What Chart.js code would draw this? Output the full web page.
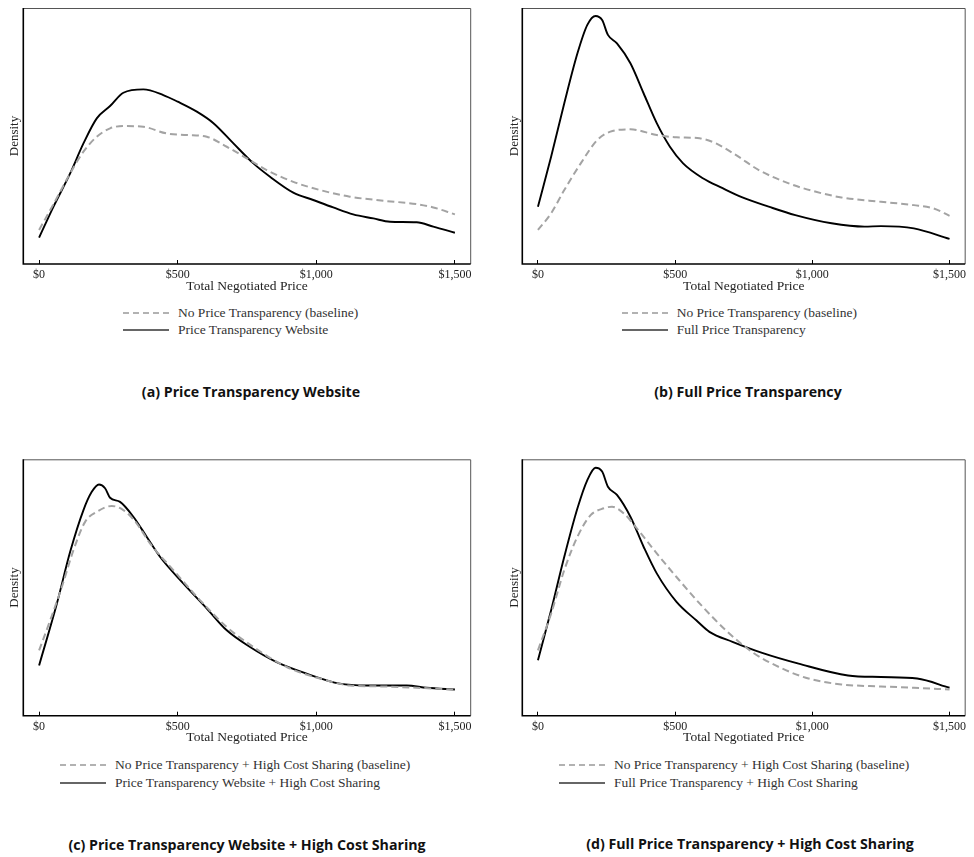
<!DOCTYPE html>
<html>
<head>
<meta charset="utf-8">
<script src="https://cdn.jsdelivr.net/npm/chart.js@4.4.1/dist/chart.umd.min.js"></script>
<style>
  body { margin: 0; background: #fff; }
  #page { position: relative; width: 974px; height: 857px; overflow: hidden; }
  #page canvas { position: absolute; }
  .legend { position: absolute; font-family: "Liberation Serif", serif; font-size: 13.5px; color: #333; }
  .legend div { height: 17.5px; display: flex; align-items: center; white-space: nowrap; }
  .legend svg { margin-right: 9px; flex: none; }
  .caption { position: absolute; width: 480px; text-align: center; font-family: "Open Sans", sans-serif;
             font-weight: bold; font-size: 14.2px; color: #111; }
</style>
</head>
<body>
<div id="page"></div>
<script>
// x ticks and text
const xTicks = [0, 500, 1000, 1500];
const xTitle = 'Total Negotiated Price';
const yTitle = 'Density';
const captions = [
  '(a) Price Transparency Website',
  '(b) Full Price Transparency',
  '(c) Price Transparency Website + High Cost Sharing',
  '(d) Full Price Transparency + High Cost Sharing'
];
const baselineLabels = [
  'No Price Transparency (baseline)',
  'No Price Transparency (baseline)',
  'No Price Transparency + High Cost Sharing (baseline)',
  'No Price Transparency + High Cost Sharing (baseline)'
];
const treatmentLabels = [
  'Price Transparency Website',
  'Full Price Transparency',
  'Price Transparency Website + High Cost Sharing',
  'Full Price Transparency + High Cost Sharing'
];

// density curves, [price, density] (density on a 0-100 plot scale)
const aBaseline = [[0,13.3],[52,23.4],[112,35.4],[160,43.9],[208,49.7],[256,53.0],[304,53.9],[376,53.6],[460,51.0],[532,50.4],[605,49.7],[677,45.8],[749,41.3],[821,36.7],[917,32.1],[1013,28.9],[1121,26.3],[1242,24.7],[1362,23.4],[1422,22.1],[1500,19.4]];
const aTreatment = [[0,10.3],[52,22.4],[112,35.4],[160,47.1],[208,56.9],[256,61.7],[304,66.9],[376,68.2],[448,66.0],[500,63.4],[569,59.5],[629,55.0],[701,47.1],[773,39.3],[833,34.1],[917,27.9],[989,25.0],[1061,22.1],[1133,19.4],[1206,17.8],[1266,16.5],[1362,16.3],[1422,14.6],[1500,12.2]];
const bBaseline = [[0,13.3],[48,19.8],[96,28.9],[156,39.3],[216,48.4],[264,51.7],[337,52.6],[433,50.4],[505,49.5],[589,49.1],[649,47.1],[721,42.6],[805,36.7],[914,31.5],[1010,28.3],[1106,26.0],[1250,24.3],[1370,23.0],[1442,21.7],[1500,18.8]];
const bTreatment = [[0,22.4],[48,41.9],[96,62.8],[144,82.3],[180,93.4],[210,96.9],[234,95.3],[255,89.5],[288,86.2],[337,78.4],[385,66.7],[433,55.0],[481,45.8],[529,39.3],[601,33.5],[673,29.6],[745,26.0],[841,22.4],[938,19.1],[1070,15.9],[1190,14.6],[1250,14.8],[1370,13.9],[1500,9.8]];
const cBaseline = [[0,25.5],[40,37.2],[82,50.2],[124,64.6],[166,75.6],[208,79.5],[262,81.8],[304,80.2],[352,75.0],[400,67.2],[484,56.8],[581,45.0],[677,34.6],[773,26.8],[893,19.0],[1013,14.5],[1121,11.8],[1242,11.4],[1362,10.9],[1500,10.2]];
const cTreatment = [[0,19.6],[64,43.7],[112,63.9],[160,80.2],[190,87.3],[216,90.2],[238,88.7],[256,85.0],[292,83.4],[340,77.6],[388,69.8],[436,62.0],[520,51.6],[605,41.8],[677,33.3],[761,26.8],[857,20.9],[965,16.4],[1085,12.5],[1182,11.8],[1326,11.8],[1398,10.9],[1500,10.2]];
const dBaseline = [[0,25.5],[48,39.8],[96,56.8],[144,69.8],[192,78.2],[240,80.9],[270,81.5],[313,78.9],[361,73.0],[433,63.3],[505,54.1],[589,43.8],[685,33.3],[781,24.8],[890,18.4],[986,14.5],[1106,12.2],[1250,11.4],[1370,10.9],[1500,10.2]];
const dTreatment = [[0,21.6],[48,41.1],[96,62.0],[144,80.9],[180,91.9],[210,96.7],[234,95.2],[255,89.3],[288,86.1],[337,77.6],[385,65.9],[433,55.5],[505,44.4],[577,37.2],[625,32.7],[709,28.8],[817,24.5],[950,20.3],[1130,15.7],[1250,15.1],[1382,14.5],[1500,10.9]];

const baselines = [aBaseline, bBaseline, cBaseline, dBaseline];
const treatments = [aTreatment, bTreatment, cTreatment, dTreatment];

// panel layout (canvas position, plot area inside canvas, legend and caption spots on page)
const W = 487, H = 300;
const layout = [
  { left: 0,   top: 0,   L: 23.3, R: 470.7, T: 8,   B: 264,   yLab: 15, legX: 123, legY: 312.7, capX: 251, capY: 392 },
  { left: 487, top: 0,   L: 35.3, R: 482.3, T: 8,   B: 264,   yLab: 28, legX: 621.7, legY: 312.7, capX: 748, capY: 392 },
  { left: 0,   top: 450, L: 23.3, R: 470.7, T: 9.3, B: 265.7, yLab: 15, legX: 60, legY: 765, capX: 247, capY: 845 },
  { left: 487, top: 450, L: 35.3, R: 482.3, T: 9.3, B: 265.7, yLab: 28, legX: 559, legY: 765, capX: 750, capY: 844 }
];

const serif = 'Liberation Serif';

const framePlugin = {
  id: 'frame',
  afterDraw(chart) {
    const { ctx, chartArea: a } = chart;
    ctx.save();
    ctx.lineWidth = 1;
    ctx.strokeStyle = '#555';
    ctx.beginPath();
    ctx.moveTo(a.left, a.top + 0.5);
    ctx.lineTo(a.right, a.top + 0.5);
    ctx.lineTo(a.right, a.bottom);
    ctx.stroke();
    ctx.lineWidth = 1.6;
    ctx.strokeStyle = '#000';
    ctx.beginPath();
    ctx.moveTo(a.left, a.top);
    ctx.lineTo(a.left, a.bottom);
    ctx.lineTo(a.right, a.bottom);
    ctx.stroke();
    ctx.restore();
  }
};

const page = document.getElementById('page');

layout.forEach((p, i) => {
  const canvas = document.createElement('canvas');
  canvas.width = W;
  canvas.height = H;
  canvas.style.left = p.left + 'px';
  canvas.style.top = p.top + 'px';
  page.appendChild(canvas);

  const datasets = [
    {
      label: baselineLabels[i],
      data: baselines[i].map(([x, y]) => ({ x, y })),
      borderColor: '#a3a3a3',
      borderWidth: 2,
      borderDash: [7, 4],
      pointRadius: 0,
      cubicInterpolationMode: 'monotone',
      fill: false
    },
    {
      label: treatmentLabels[i],
      data: treatments[i].map(([x, y]) => ({ x, y })),
      borderColor: '#000',
      borderWidth: 1.9,
      pointRadius: 0,
      cubicInterpolationMode: 'monotone',
      fill: false
    }
  ];

  const chart = new Chart(canvas.getContext('2d'), {
    type: 'line',
    data: { datasets },
    options: {
      responsive: false,
      animation: false,
      events: [],
      layout: { padding: { left: 0, top: p.T, right: W - p.R, bottom: 0 } },
      plugins: { legend: { display: false }, tooltip: { enabled: false } },
      scales: {
        x: {
          type: 'linear',
          min: -57,
          max: 1557,
          afterBuildTicks: s => { s.ticks = xTicks.map(v => ({ value: v })); },
          afterFit: s => { s.height = H - p.B; },
          grid: { drawOnChartArea: false, tickLength: -4, color: '#000', lineWidth: 1 },
          border: { display: false },
          ticks: {
            padding: 7.8,
            color: '#222',
            maxRotation: 0,
            autoSkip: false,
            font: { family: serif, size: 12 },
            callback: v => '$' + v.toLocaleString('en-US')
          },
          title: {
            display: true,
            text: xTitle,
            color: '#222',
            font: { family: serif, size: 13.5 },
            padding: { top: 0, bottom: H - (p.B + 22) - 8.1 }
          }
        },
        y: {
          min: 0,
          max: 100,
          afterFit: s => { s.width = p.L; },
          ticks: { display: false },
          grid: { display: false },
          border: { display: false },
          title: {
            display: true,
            text: yTitle,
            color: '#222',
            font: { family: serif, size: 13 },
            padding: { top: p.yLab - 7.8, bottom: 0 }
          }
        }
      }
    },
    plugins: [framePlugin]
  });

  // legend from the chart's datasets
  const leg = document.createElement('div');
  leg.className = 'legend';
  leg.style.left = p.legX + 'px';
  leg.style.top = (p.legY - 8.75) + 'px';
  chart.data.datasets.forEach(ds => {
    const row = document.createElement('div');
    const dash = ds.borderDash ? 'stroke-dasharray="6 4"' : '';
    const col = ds.borderDash ? '#999' : '#333';
    row.innerHTML = '<svg width="46" height="4"><line x1="0" y1="2" x2="46" y2="2" stroke="' + col +
      '" stroke-width="1.5" ' + dash + '/></svg><span></span>';
    row.querySelector('span').textContent = ds.label;
    leg.appendChild(row);
  });
  page.appendChild(leg);

  const cap = document.createElement('div');
  cap.className = 'caption';
  cap.style.left = (p.capX - 240) + 'px';
  cap.style.top = (p.capY - 10.5) + 'px';
  cap.textContent = captions[i];
  page.appendChild(cap);
});
</script>
</body>
</html>
